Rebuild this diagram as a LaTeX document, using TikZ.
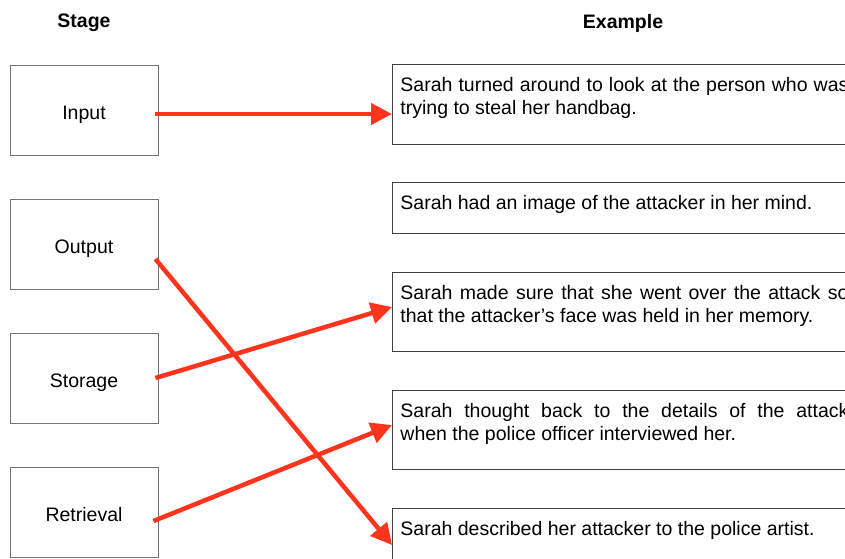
\documentclass[tikz,border=0pt]{standalone}
\usepackage{fontspec}
\setmainfont{Liberation Sans}
\usetikzlibrary{arrows.meta,positioning}
\definecolor{arrowred}{RGB}{255,52,28}

\begin{document}
\begin{tikzpicture}[x=1pt,y=-1pt,
	font=\fontsize{19.5}{23}\selectfont,
	stagebox/.style={draw=black!55,line width=.9pt,minimum width=148pt,minimum height=90pt,text height=18pt,text depth=0pt},
	examplebox/.style={draw=black!75,line width=.9pt,anchor=north west,text width=448pt,align=justify,
		inner xsep=8pt,inner ysep=0pt,text height=27pt},
	link/.style={draw=arrowred,line width=4.5pt,-{Triangle[length=21pt,width=21pt]}}]
	\clip (0,0) rectangle (845,558);

	\node[font=\fontsize{19.5}{23}\selectfont\bfseries] (stage) at (84,23) {Stage};
	\node[font=\fontsize{19.5}{23}\selectfont\bfseries] (example) at (623,23) {Example};

	\foreach \name/\txt/\y in {in/Input/110,out/Output/244,sto/Storage/378,ret/Retrieval/512} \node[stagebox] (\name) at (84,\y) {\txt};

	\node[examplebox,text depth=53pt] (ex1) at (392,64) {Sarah turned around to look at the person who was\linebreak trying to steal her handbag.};
	\node[examplebox,text depth=24pt] (ex2) at (392,182) {Sarah had an image of the attacker in her mind.};
	\node[examplebox,text depth=52pt] (ex3) at (392,272) {Sarah made sure that she went over the attack so\linebreak that the attacker’s face was held in her memory.};
	\node[examplebox,text depth=52pt] (ex4) at (392,390) {Sarah thought back to the details of the attack\linebreak when the police officer interviewed her.};
	\node[examplebox,text depth=60pt] (ex5) at (392,508) {Sarah described her attacker to the police artist.};

	\draw[link] ([shift={(-3pt,-4pt)}]in.east) -- ([yshift=-50pt]ex1.north west);
	\draw[link] ([shift={(-3pt,-15pt)}]out.east) -- ([yshift=-37pt]ex5.north west);
	\draw[link] ([shift={(-3pt,0pt)}]sto.east) -- ([yshift=-35pt]ex3.north west);
	\draw[link] ([shift={(-5pt,-9pt)}]ret.east) -- ([yshift=-35pt]ex4.north west);
\end{tikzpicture}
\end{document}
